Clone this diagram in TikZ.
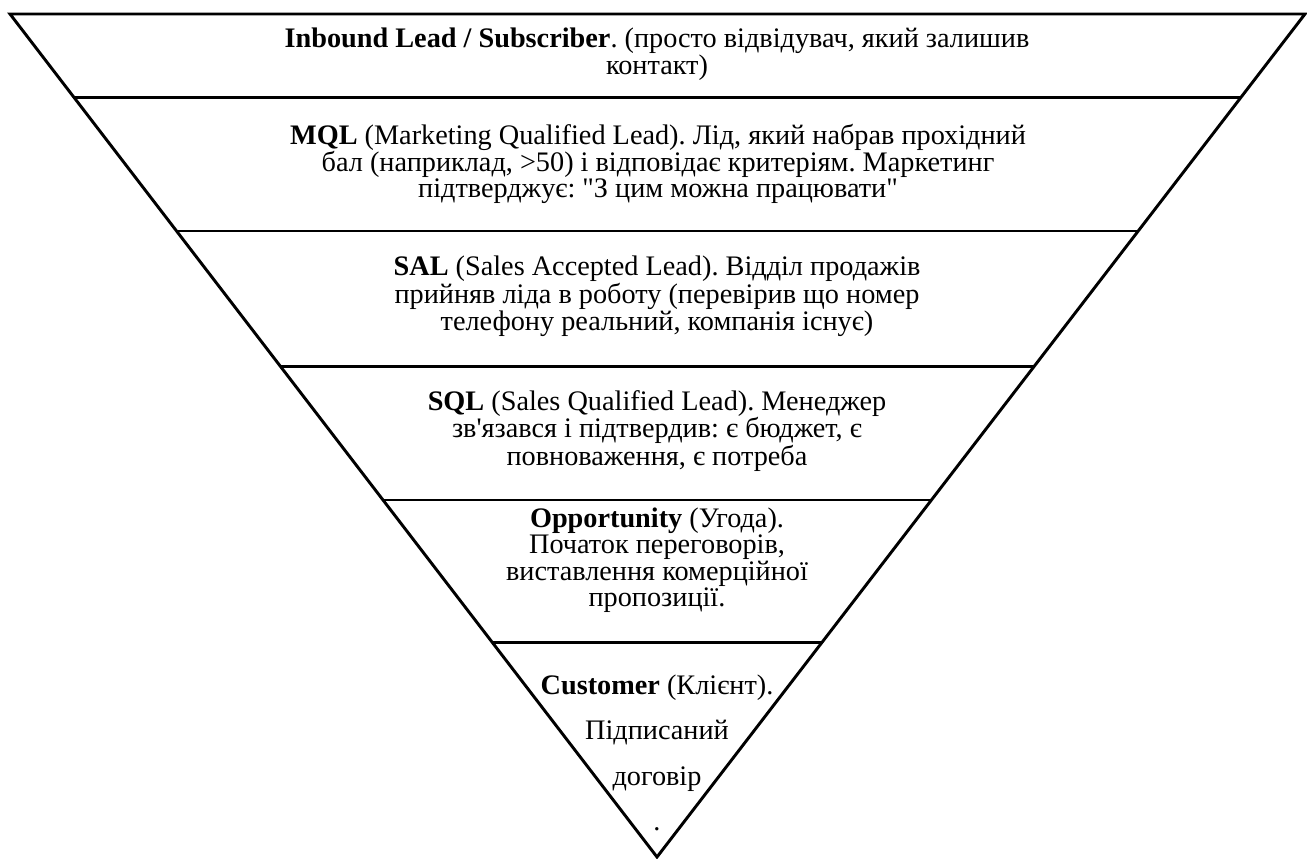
\documentclass[tikz,border=0pt]{standalone}
\usepackage{fontspec}
\setmainfont{Liberation Serif}[Ligatures=TeXOff]
\usetikzlibrary{calc}
\frenchspacing
\tikzset{
  funnel/.style = {draw, line width=2.2pt, line join=miter},
  divider/.style = {draw, line width=2.2pt},
  stage/.style = {align=center, inner sep=0pt, font=\fontsize{21.2}{18.2}\selectfont}
}

\begin{document}
\begin{tikzpicture}[x=0.75pt,y=-0.75pt]
\useasboundingbox (0,0) rectangle (1307,858);

\coordinate (tl) at (10,14);
\coordinate (tr) at (1305,14);
\coordinate (apex) at (657,857);

\draw[funnel] (tl) -- (tr) -- (apex) -- cycle;

% stage borders
\foreach \t in {0.0996,0.2574,0.4176,0.5765,0.7450}
  \draw[divider] ($(tl)!\t!(apex)$) -- ($(tr)!\t!(apex)$);

\node[stage] (inbound) at (657,54)
  {\textbf{Inbound Lead / Subscriber}. (просто відвідувач, який залишив\\контакт)};
\node[stage] (mql) at (658,164)
  {\textbf{MQL} (Marketing Qualified Lead). Лід, який набрав прохідний\\бал (наприклад, >50) і відповідає критеріям. Маркетинг\\підтверджує: "З цим можна працювати"};
\node[stage] (sal) at (657,296)
  {\textbf{SAL} (Sales Accepted Lead). Відділ продажів\\прийняв ліда в роботу (перевірив що номер\\телефону реальний, компанія існує)};
\node[stage] (sqlead) at (657,431)
  {\textbf{SQL} (Sales Qualified Lead). Менеджер\\зв'язався і підтвердив: є бюджет, є\\повноваження, є потреба};
\node[stage] (opp) at (657,560)
  {\textbf{Opportunity} (Угода).\\Початок переговорів,\\виставлення комерційної\\пропозиції.};
\node[stage, font=\fontsize{21.2}{34}\selectfont] (customer) at (657,753)
  {\textbf{Customer} (Клієнт).\\Підписаний\\договір\\.};
\end{tikzpicture}
\end{document}
